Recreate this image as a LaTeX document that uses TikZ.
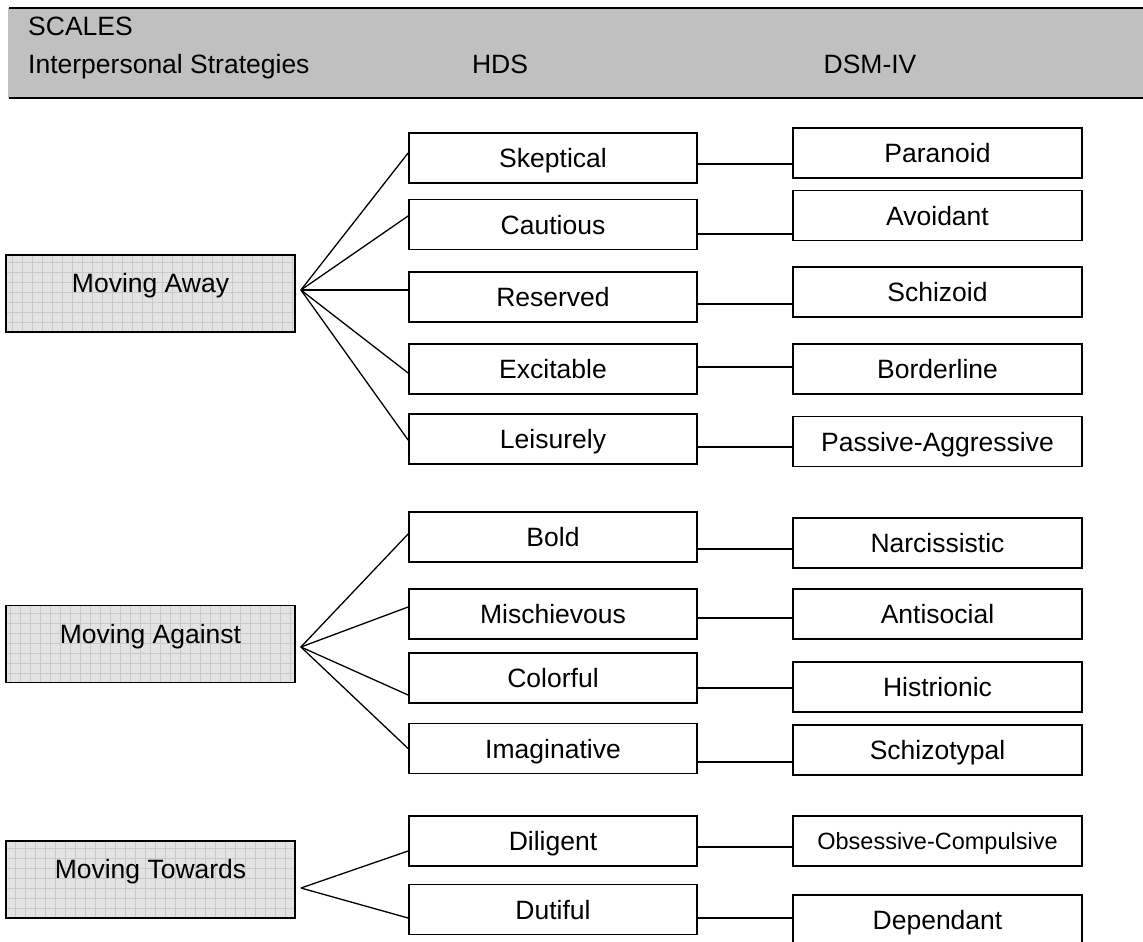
\documentclass[tikz,border=0pt]{standalone}
\usepackage{fontspec}
\setmainfont{Liberation Sans}
\usetikzlibrary{calc}
\definecolor{headgray}{HTML}{C0C0C0}
\definecolor{boxgray}{HTML}{E3E3E3}
\definecolor{gridgray}{HTML}{C9C9C9}

\begin{document}
\begin{tikzpicture}[x=1pt,y=-1pt,
  every node/.style={font=\fontsize{26.5}{30}\selectfont},
  headtext/.style={inner sep=0pt},
  stratbox/.style={draw,line width=1.8pt,fill=boxgray,minimum width=289pt,minimum height=77pt,inner sep=0pt,
    text height=19pt,text depth=21pt,
    path picture={\draw[gridgray,line width=0.5pt,step=10pt] (path picture bounding box.south west) grid (path picture bounding box.north east);}},
  hdsbox/.style={draw,line width=1.8pt,minimum width=288pt,minimum height=50pt,inner sep=0pt,text height=19pt,text depth=0pt},
  dsmbox/.style={hdsbox,minimum width=289pt},
  link/.style={line width=1.3pt}]
\useasboundingbox (0,0) rectangle (1143,942);
\clip (0,0) rectangle (1143,942);
% Header band
\fill [headgray] (8,8) rectangle (1143,98);
\draw [line width=2.5pt] (9,8) -- (1143,8);
\draw [line width=2.5pt] (9,98) -- (1143,98);
\node [headtext,anchor=base west] (scales) at (28,36) {SCALES};
\node [headtext,anchor=base west] (strat) at (28,74) {Interpersonal Strategies};
\node [headtext,anchor=base] (hds) at (500,74) {HDS};
\node [headtext,anchor=base] (dsm) at (870,74) {DSM-IV};
% Strategy boxes
\node [stratbox] (away) at (150.5,293.5) {Moving Away};
\node [stratbox] (against) at (150.5,644) {Moving Against};
\node [stratbox] (towards) at (150.5,879.5) {Moving Towards};
\coordinate (awayhub) at ([xshift=5pt,yshift=3.5pt]away.east);
\coordinate (againsthub) at ([xshift=5pt,yshift=-3pt]against.east);
\coordinate (towardshub) at ([xshift=5pt,yshift=-8.5pt]towards.east);
% HDS column
\node [hdsbox] (skep) at (553,158) {Skeptical};
\node [hdsbox] (caut) at (553,224.5) {Cautious};
\node [hdsbox] (reser) at (553,297) {Reserved};
\node [hdsbox] (excit) at (553,369) {Excitable};
\node [hdsbox] (leis) at (553,439) {Leisurely};
\node [hdsbox] (bold) at (553,537) {Bold};
\node [hdsbox] (misch) at (553,614) {Mischievous};
\node [hdsbox] (color) at (553,678) {Colorful};
\node [hdsbox] (imag) at (553,748.5) {Imaginative};
\node [hdsbox] (dilig) at (553,841) {Diligent};
\node [hdsbox] (dutif) at (553,909.5) {Dutiful};
% DSM-IV column
\node [dsmbox] (para) at (937.5,153) {Paranoid};
\node [dsmbox] (avoid) at (937.5,215.5) {Avoidant};
\node [dsmbox] (schizoid) at (937.5,292) {Schizoid};
\node [dsmbox] (border) at (937.5,369) {Borderline};
\node [dsmbox] (passag) at (937.5,441.5) {Passive-Aggressive};
\node [dsmbox] (narc) at (937.5,543) {Narcissistic};
\node [dsmbox] (antis) at (937.5,614) {Antisocial};
\node [dsmbox] (histr) at (937.5,687) {Histrionic};
\node [dsmbox] (schizot) at (937.5,750) {Schizotypal};
\node [dsmbox,font=\fontsize{23.5}{27}\selectfont,text height=17pt] (obses) at (937.5,841) {Obsessive-Compulsive};
\node [dsmbox] (depend) at (937.5,920) {Dependant};
% Moving Away fan
\draw [link] (awayhub) -- ([yshift=5pt]skep.west);
\draw [link] (awayhub) -- ([yshift=8.5pt]caut.west);
\draw [link] (awayhub) -- ([yshift=7pt]reser.west);
\draw [link] (awayhub) -- ([yshift=-4pt]excit.west);
\draw [link] (awayhub) -- ([yshift=-1pt]leis.west);
% Moving Against fan
\draw [link] (againsthub) -- ([yshift=3pt]bold.west);
\draw [link] (againsthub) -- ([yshift=7pt]misch.west);
\draw [link] (againsthub) -- ([yshift=-17pt]color.west);
\draw [link] (againsthub) -- (imag.west);
% Moving Towards fan
\draw [link] (towardshub) -- ([yshift=-10pt]dilig.west);
\draw [link] (towardshub) -- ([yshift=-8.5pt]dutif.west);
% HDS to DSM-IV
\draw [link] ([yshift=-6pt]skep.east) coordinate (c) -- (c -| para.west);
\draw [link] ([yshift=-9.5pt]caut.east) coordinate (c) -- (c -| avoid.west);
\draw [link] ([yshift=-7pt]reser.east) coordinate (c) -- (c -| schizoid.west);
\draw [link] ([yshift=2pt]excit.east) coordinate (c) -- (c -| border.west);
\draw [link] ([yshift=-8pt]leis.east) coordinate (c) -- (c -| passag.west);
\draw [link] ([yshift=-12pt]bold.east) coordinate (c) -- (c -| narc.west);
\draw [link] ([yshift=-4pt]misch.east) coordinate (c) -- (c -| antis.west);
\draw [link] ([yshift=-10pt]color.east) coordinate (c) -- (c -| histr.west);
\draw [link] ([yshift=-13.5pt]imag.east) coordinate (c) -- (c -| schizot.west);
\draw [link] ([yshift=-6pt]dilig.east) coordinate (c) -- (c -| obses.west);
\draw [link] ([yshift=-8.5pt]dutif.east) coordinate (c) -- (c -| depend.west);
\end{tikzpicture}
\end{document}
